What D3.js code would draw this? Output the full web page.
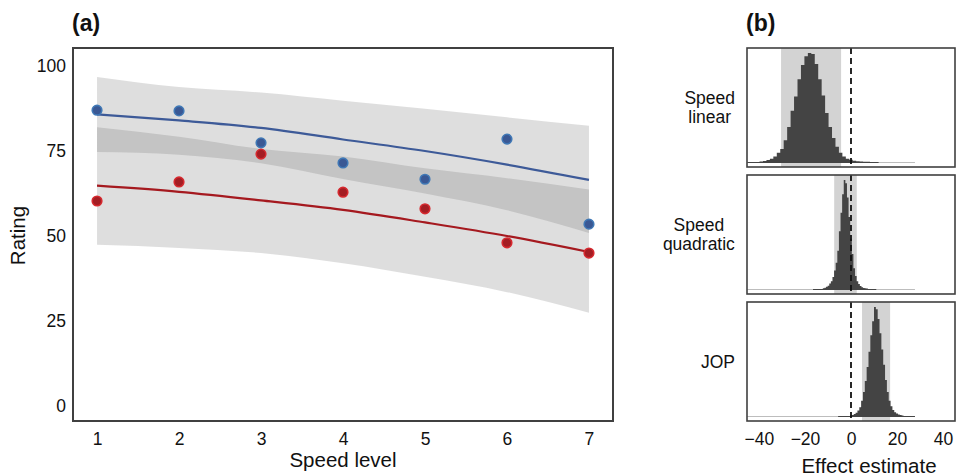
<!DOCTYPE html>
<html>
<head>
<meta charset="utf-8">
<script src="https://cdn.jsdelivr.net/npm/d3@7"></script>
<style>
  html, body { margin: 0; padding: 0; background: #fff; }
  svg { display: block; font-family: "Liberation Sans", Arial, Helvetica, sans-serif; }
</style>
</head>
<body>
<svg id="chart" width="958" height="476"></svg>
<script>
// ---------- Panel (a) data ----------
const speedLevels = [1, 2, 3, 4, 5, 6, 7];
const blueObs   = [87.0, 86.8, 77.4, 71.5, 66.7, 78.5, 53.5];
const redObs    = [60.3, 65.9, 74.1, 62.9, 58.0, 48.0, 45.0];
const blueFit   = [85.8, 84.0, 81.8, 78.4, 75.0, 71.0, 66.5];
const redFit    = [64.8, 63.0, 60.5, 57.7, 54.0, 50.0, 45.3];
const blueUpper = [96.8, 93.8, 92.2, 89.8, 87.4, 84.9, 82.4];
const blueLower = [74.7, 73.9, 71.4, 66.8, 62.5, 57.6, 50.9];
const redUpper  = [82.0, 79.2, 75.6, 73.4, 69.9, 67.0, 63.7];
const redLower  = [47.4, 46.5, 45.0, 42.0, 38.0, 33.5, 27.4];
const ratingTicks = [0, 25, 50, 75, 100];

// ---------- Panel (b) data ----------
const effectNames = [["Speed", "linear"], ["Speed", "quadratic"], ["JOP"]];
const ciLow  = [-30.4, -7.3, 4.8];
const ciHigh = [-4.3, 2.5, 17.0];
const binStart = [-39.75, -12.25, -0.4];
const binWidth = [1.5, 0.7, 0.8];
const histLinear = [0.005, 0.01, 0.018, 0.03, 0.05, 0.085, 0.12, 0.2, 0.32, 0.47, 0.6, 0.76, 0.89, 0.97, 1.0, 0.99,
                    0.9, 0.76, 0.61, 0.45, 0.32, 0.22, 0.14, 0.085, 0.05, 0.03, 0.02, 0.012, 0.008, 0.005, 0.003, 0.002];
const histQuadratic = [0.008, 0.012, 0.02, 0.03, 0.05, 0.07, 0.11, 0.17, 0.24, 0.35, 0.53, 0.70, 0.87, 1.0,
                       0.97, 0.84, 0.66, 0.46, 0.32, 0.19, 0.12, 0.07, 0.045, 0.028, 0.017, 0.01, 0.006, 0.004];
const histJOP = [0.006, 0.01, 0.018, 0.03, 0.05, 0.08, 0.14, 0.22, 0.32, 0.45, 0.59, 0.74, 0.87, 1.0, 0.98,
                 0.89, 0.76, 0.61, 0.47, 0.33, 0.22, 0.14, 0.09, 0.055, 0.035, 0.022, 0.014, 0.009, 0.005];
const histograms = [histLinear, histQuadratic, histJOP];
const sampleMin = [-45, -16.5, -5.6];
const sampleMax = [12, 11, 27.8];
const baselineMax = [27.8, 27.8, 27.8];
const effectTicks = [-40, -20, 0, 20, 40];

// ---------- Drawing ----------
const svg = d3.select("#chart");
const frameColor = "#404040";

// Panel (a)
const A = { left: 73, right: 613, top: 48, bottom: 421 };
const xA = d3.scaleLinear().domain([0.707, 7.293]).range([A.left, A.right]);
const yA = d3.scaleLinear().domain([-4.4, 105.3]).range([A.bottom, A.top]);

const gA = svg.append("g");

function bandData(lo, hi) { return speedLevels.map((s, i) => ({ x: s, lo: lo[i], hi: hi[i] })); }
const band = d3.area().x(d => xA(d.x)).y0(d => yA(d.lo)).y1(d => yA(d.hi)).curve(d3.curveMonotoneX);

[[redLower, redUpper], [blueLower, blueUpper]].forEach(([lo, hi]) => {
  gA.append("path").datum(bandData(lo, hi)).attr("d", band)
    .attr("fill", "#636363").attr("fill-opacity", 0.212);
});

const line = d3.line().x(d => xA(d.x)).y(d => yA(d.y)).curve(d3.curveMonotoneX);
const series = [
  { fit: blueFit, obs: blueObs, line: "#3d5a98", fill: "#3a5894", ring: "#3f78b6" },
  { fit: redFit, obs: redObs, line: "#a5191f", fill: "#a41d23", ring: "#d6282e" }
];
series.forEach(s => {
  gA.append("path").datum(speedLevels.map((x, i) => ({ x, y: s.fit[i] }))).attr("d", line)
    .attr("fill", "none").attr("stroke", s.line).attr("stroke-width", 2.2);
});
series.forEach(s => {
  gA.selectAll(null).data(speedLevels.map((x, i) => ({ x, y: s.obs[i] }))).enter()
    .append("circle").attr("cx", d => xA(d.x)).attr("cy", d => yA(d.y)).attr("r", 4.8)
    .attr("fill", s.fill).attr("stroke", s.ring).attr("stroke-width", 1.6);
});

gA.append("rect").attr("x", A.left).attr("y", A.top)
  .attr("width", A.right - A.left).attr("height", A.bottom - A.top)
  .attr("fill", "none").attr("stroke", frameColor).attr("stroke-width", 2);

// Axes (a)
const axXA = gA.append("g").attr("transform", `translate(0,${A.bottom})`)
  .call(d3.axisBottom(xA).tickValues(speedLevels).tickSize(0).tickPadding(12).tickFormat(d3.format("d")));
const axYA = gA.append("g").attr("transform", `translate(${A.left},0)`)
  .call(d3.axisLeft(yA).tickValues(ratingTicks).tickSize(0).tickPadding(7));
[axXA, axYA].forEach(ax => {
  ax.select(".domain").remove();
  ax.selectAll("text").attr("font-size", 17.5).attr("fill", "#111")
    .attr("font-family", "'Liberation Sans', Arial, sans-serif");
});

svg.append("text").attr("x", (A.left + A.right) / 2).attr("y", 467).attr("text-anchor", "middle")
  .attr("font-size", 20.5).attr("fill", "#111").text("Speed level");
svg.append("text").attr("transform", `translate(25,${(A.top + A.bottom) / 2 + 1}) rotate(-90)`)
  .attr("text-anchor", "middle").attr("font-size", 20.5).attr("fill", "#111").text("Rating");
svg.append("text").attr("x", 72).attr("y", 31).attr("font-size", 23).attr("font-weight", "bold")
  .attr("fill", "#111").text("(a)");

// Panel (b)
const B = { left: 747, right: 955 };
const panelTops = [48, 175, 302];
const panelH = 119;
const xB = d3.scaleLinear().domain([-45.2, 45.2]).range([B.left, B.right]);

svg.append("text").attr("x", 746).attr("y", 31).attr("font-size", 23).attr("font-weight", "bold")
  .attr("fill", "#111").text("(b)");

histograms.forEach((h, p) => {
  const top = panelTops[p], bottom = top + panelH;
  const yB = d3.scaleLinear().domain([0, 1]).range([bottom - 5, top + 5]);
  const g = svg.append("g");
  const clipId = "clip" + p;
  g.append("clipPath").attr("id", clipId).append("rect")
    .attr("x", B.left).attr("y", top).attr("width", B.right - B.left).attr("height", panelH);
  const inner = g.append("g").attr("clip-path", `url(#${clipId})`);

  // credible interval shading
  inner.append("rect").attr("x", xB(ciLow[p])).attr("y", top)
    .attr("width", xB(ciHigh[p]) - xB(ciLow[p])).attr("height", panelH).attr("fill", "#d3d3d3");

  // baselines
  inner.append("line").attr("x1", xB(-45.2)).attr("x2", xB(baselineMax[p]))
    .attr("y1", yB(0) + 0.5).attr("y2", yB(0) + 0.5).attr("stroke", "#bdbdbd").attr("stroke-width", 1);
  inner.append("line").attr("x1", xB(sampleMin[p])).attr("x2", xB(sampleMax[p]))
    .attr("y1", yB(0) + 0.5).attr("y2", yB(0) + 0.5).attr("stroke", "#454545").attr("stroke-width", 1);

  // histogram
  const pts = h.map((v, i) => ({ x: binStart[p] + i * binWidth[p], v }));
  pts.push({ x: binStart[p] + h.length * binWidth[p], v: h[h.length - 1] });
  const area = d3.area().x(d => xB(d.x)).y0(yB(0) + 1).y1(d => yB(d.v)).curve(d3.curveStepAfter);
  inner.append("path").datum(pts).attr("d", area).attr("fill", "#444444");

  // zero line
  inner.append("line").attr("x1", xB(0)).attr("x2", xB(0)).attr("y1", top).attr("y2", bottom)
    .attr("stroke", "#111").attr("stroke-width", 1.8).attr("stroke-dasharray", "6,4");

  g.append("rect").attr("x", B.left).attr("y", top).attr("width", B.right - B.left).attr("height", panelH)
    .attr("fill", "none").attr("stroke", frameColor).attr("stroke-width", 1.6);

  // label: lines centred within a block whose right edge sits left of the panel
  const lines = effectNames[p];
  const cy = top + panelH / 2;
  const lh = 19.5;
  const lab = g.append("text").attr("font-size", 17.5).attr("fill", "#111").attr("text-anchor", "middle");
  lines.forEach((t, i) => {
    lab.append("tspan").attr("x", 0).attr("y", cy + (i - (lines.length - 1) / 2) * lh + 6).text(t);
  });
  const w = lab.node().getBBox().width;
  lab.selectAll("tspan").attr("x", 735 - w / 2);
});

const lastBottom = panelTops[2] + panelH;
const axXB = svg.append("g").attr("transform", `translate(0,${lastBottom})`)
  .call(d3.axisBottom(xB).tickValues(effectTicks).tickSize(0).tickPadding(12)
    .tickFormat(d => d < 0 ? "\u2212" + Math.abs(d) : String(d)));
axXB.select(".domain").remove();
axXB.selectAll("text").attr("font-size", 17.5).attr("fill", "#111")
  .attr("font-family", "'Liberation Sans', Arial, sans-serif");

svg.append("text").attr("x", 869).attr("y", 473).attr("text-anchor", "middle")
  .attr("font-size", 20.5).attr("fill", "#111").text("Effect estimate");
</script>
</body>
</html>
